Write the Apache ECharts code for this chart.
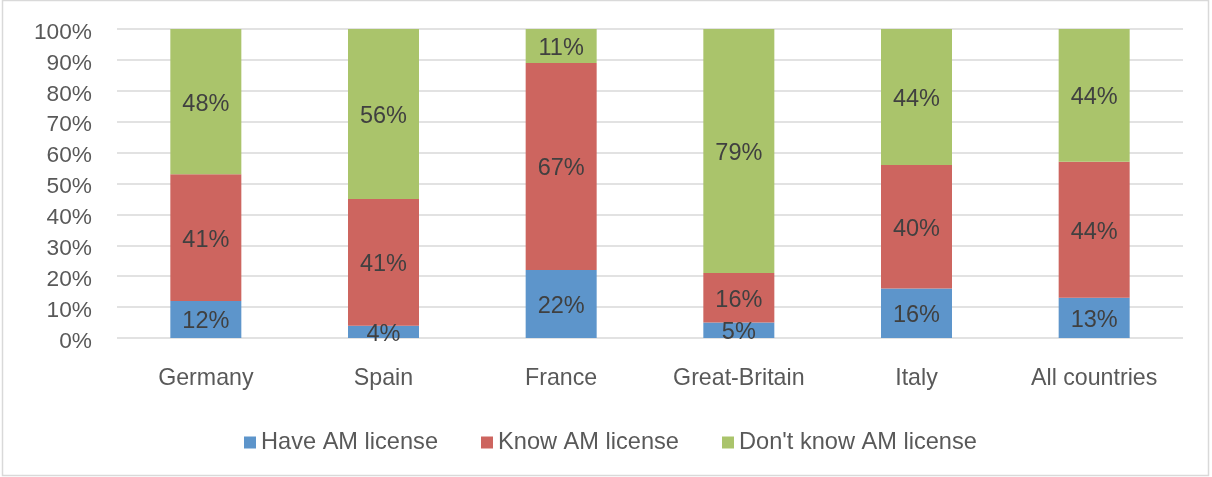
<!DOCTYPE html>
<html>
<head>
<meta charset="utf-8">
<title>AM license awareness by country</title>
<script src="https://cdn.jsdelivr.net/npm/echarts@6/dist/echarts.min.js"></script>
<style>
  html, body { margin: 0; padding: 0; background: #ffffff; }
  #chart { width: 1212px; height: 477px; }
</style>
</head>
<body>
<div id="chart"></div>
<script>
// Survey shares per country, in percent
const countries = ['Germany', 'Spain', 'France', 'Great-Britain', 'Italy', 'All countries'];
const haveLicense = [12, 4, 22, 5, 16, 13];
const knowLicense = [41, 41, 67, 16, 40, 44];
const dontKnowLicense = [48, 56, 11, 79, 44, 44];
const seriesNames = ['Have AM license', 'Know AM license', "Don't know AM license"];
const seriesColors = ['#5d95cb', '#cd655f', '#aac46b'];

const FONT = "'Liberation Sans', Arial, Helvetica, sans-serif";

function barSeries(name, values, color) {
  return {
    name: name,
    type: 'bar',
    stack: 'share',
    barWidth: 71,
    data: values,
    itemStyle: { color: color },
    label: {
      show: true,
      position: 'inside',
      offset: [0, 2.5],
      formatter: '{c}%',
      color: '#404040',
      fontFamily: FONT,
      fontSize: 23.5
    },
    emphasis: { disabled: true }
  };
}

const chart = echarts.init(document.getElementById('chart'), null, { renderer: 'canvas' });

chart.setOption({
  animation: false,
  backgroundColor: '#ffffff',
  textStyle: { fontFamily: FONT },
  graphic: [{
    type: 'rect',
    silent: true,
    shape: { x: 2.5, y: 0.5, width: 1206, height: 475 },
    style: { fill: 'none', stroke: '#d9d9d9', lineWidth: 1.5 }
  }],
  grid: { left: 117, right: 29, top: 29, bottom: 139 },
  legend: {
    data: seriesNames,
    left: 244,
    top: 429,
    padding: 0,
    icon: 'rect',
    itemWidth: 12,
    itemHeight: 12,
    itemGap: 43,
    selectedMode: false,
    textStyle: { color: '#595959', fontSize: 23.6, fontFamily: FONT, verticalAlign: 'top', lineHeight: 27 }
  },
  xAxis: {
    type: 'category',
    data: countries,
    axisLine: { show: false },
    axisTick: { show: false },
    axisLabel: { color: '#595959', fontSize: 23.2, fontFamily: FONT, margin: 29 }
  },
  yAxis: {
    type: 'value',
    min: 0,
    max: 100,
    interval: 10,
    axisLine: { show: false },
    axisTick: { show: false },
    axisLabel: {
      formatter: '{value}%',
      color: '#595959',
      fontSize: 22.7,
      fontFamily: FONT,
      margin: 25,
      verticalAlign: 'top',
      lineHeight: 7
    },
    splitLine: { lineStyle: { color: '#d9d9d9', width: 1.5 } }
  },
  series: [
    barSeries(seriesNames[0], haveLicense, seriesColors[0]),
    barSeries(seriesNames[1], knowLicense, seriesColors[1]),
    barSeries(seriesNames[2], dontKnowLicense, seriesColors[2])
  ]
});
</script>
</body>
</html>
